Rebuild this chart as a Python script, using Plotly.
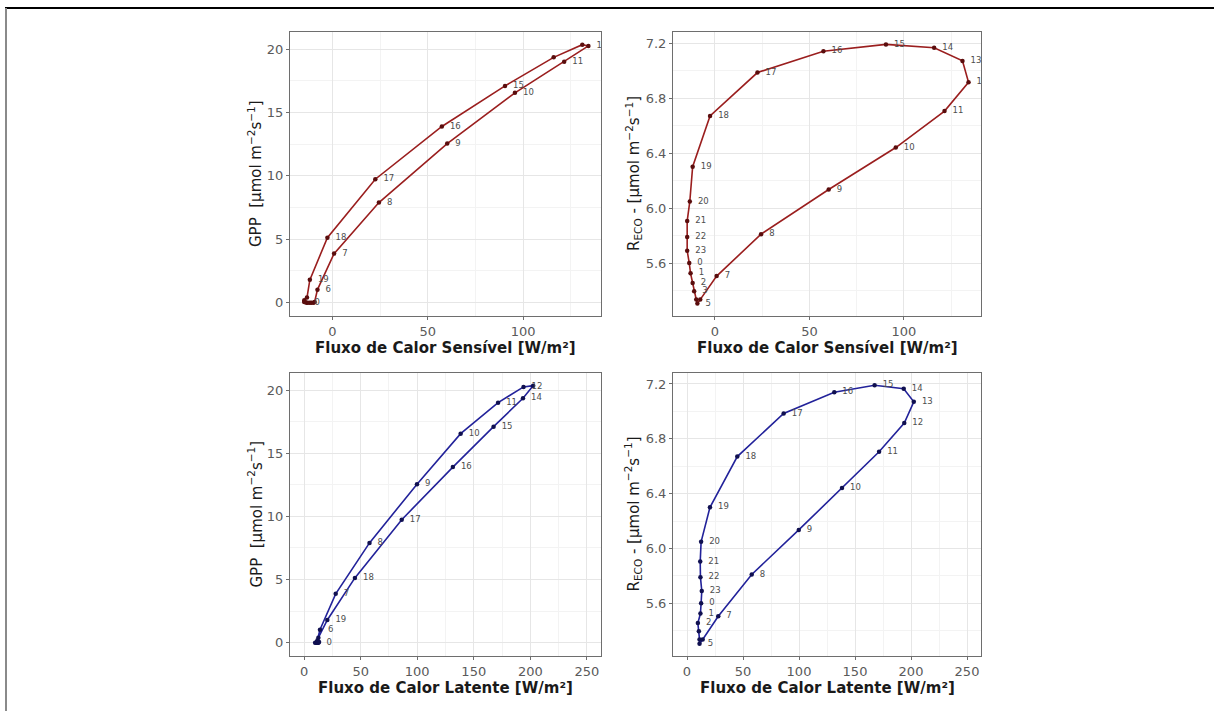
import plotly.graph_objects as go
from plotly.subplots import make_subplots

# ---------------- data (hourly mean cycle) ----------------
hours = list(range(24))
sensible_heat = [-13.6, -12.9, -11.8, -11.0, -9.9, -9.3, -7.8, 0.9, 24.4, 60.2, 95.7, 121.5,
                 134.2, 131.0, 116.0, 90.5, 57.4, 22.5, -2.6, -11.8, -13.3, -14.7, -14.7, -14.7]
latent_heat = [12.6, 12.0, 9.7, 10.6, 11.2, 11.2, 14.0, 27.9, 57.8, 99.8, 138.4, 171.5,
               194.0, 202.5, 193.5, 167.5, 131.5, 86.3, 44.9, 20.5, 12.6, 11.8, 12.0, 13.2]
gpp = [0.0, 0.0, 0.0, 0.0, 0.0, 0.05, 1.03, 3.87, 7.9, 12.55, 16.55, 19.0,
       20.25, 20.35, 19.35, 17.1, 13.9, 9.74, 5.13, 1.8, 0.4, 0.2, 0.1, 0.05]
reco = [5.60, 5.525, 5.455, 5.395, 5.335, 5.305, 5.335, 5.505, 5.81, 6.135, 6.44, 6.705,
        6.915, 7.07, 7.165, 7.19, 7.14, 6.985, 6.67, 6.30, 6.048, 5.905, 5.79, 5.69]

# hour labels that remain visible in each panel (others overlap)
labels_tl = [0, 6, 7, 8, 9, 10, 11, 12, 15, 16, 17, 18, 19]
labels_tr = [0, 1, 2, 3, 5] + list(range(7, 24))
labels_bl = [0, 6, 7, 8, 9, 10, 11, 12, 14, 15, 16, 17, 18, 19]
labels_br = [0, 1, 2, 5] + list(range(7, 24))

x_title_h = "Fluxo de Calor Sensível [W/m²]"
x_title_le = "Fluxo de Calor Latente [W/m²]"
y_title_gpp = "GPP  [μmol m<sup>−2</sup>s<sup>−1</sup>]"
y_title_reco = "R<sub>ECO</sub> - [μmol m<sup>−2</sup>s<sup>−1</sup>]"

RED_LINE = "#9a1e1e"
RED_PT = "#5a0d0d"
BLUE_LINE = "#22229a"
BLUE_PT = "#101050"

W, Hh = 1214, 711
FONT = "DejaVu Sans"

fig = make_subplots(rows=2, cols=2)


def loop(v):
    return list(v) + [v[0]]


def add_panel(row, col, xs, ys, labels, lc, pc):
    fig.add_trace(go.Scatter(x=loop(xs), y=loop(ys), mode="lines",
                             line=dict(color=lc, width=1.6), hoverinfo="skip",
                             showlegend=False), row=row, col=col)
    fig.add_trace(go.Scatter(x=xs, y=ys, mode="markers",
                             marker=dict(color=pc, size=4.5), showlegend=False),
                  row=row, col=col)
    lx = [xs[h] for h in labels]
    ly = [ys[h] for h in labels]
    lt = ["\u00a0\u00a0\u00a0" + str(h) for h in labels]
    fig.add_trace(go.Scatter(x=lx, y=ly, mode="text", text=lt,
                             textposition="middle right", cliponaxis=True,
                             textfont=dict(family=FONT, size=8.5, color="#4d4d4d"),
                             showlegend=False, hoverinfo="skip"),
                  row=row, col=col)


add_panel(1, 1, sensible_heat, gpp, labels_tl, RED_LINE, RED_PT)
add_panel(1, 2, sensible_heat, reco, labels_tr, RED_LINE, RED_PT)
add_panel(2, 1, latent_heat, gpp, labels_bl, BLUE_LINE, BLUE_PT)
add_panel(2, 2, latent_heat, reco, labels_br, BLUE_LINE, BLUE_PT)

# panel geometry (pixels)
left_x = (290, 601)
right_x = (673, 981)
top_y = (32, 316)
bot_y = (373, 656)


def dom_x(p):
    return [p[0] / W, p[1] / W]


def dom_y(p):
    return [1 - p[1] / Hh, 1 - p[0] / Hh]


axis_common = dict(showline=True, linecolor="#6e6e6e", linewidth=1, mirror=True,
                   ticks="outside", ticklen=3, tickcolor="#6e6e6e", tickwidth=1,
                   showgrid=True, gridcolor="#e6e6e6", gridwidth=1, zeroline=False,
                   tickfont=dict(family=FONT, size=13, color="#5a5a5a"))
minor_x = dict(dtick=25, showgrid=True, gridcolor="#f3f3f3", gridwidth=0.6)

fig.update_layout(
    xaxis=dict(domain=dom_x(left_x), range=[-22.2, 140.8], tick0=0, dtick=50,
               minor=minor_x, **axis_common),
    yaxis=dict(domain=dom_y(top_y), range=[-1.05, 21.35], tick0=0, dtick=5,
               minor=dict(dtick=2.5, showgrid=True, gridcolor="#f3f3f3", gridwidth=0.6),
               **axis_common),
    xaxis2=dict(domain=dom_x(right_x), range=[-22.2, 140.8], tick0=0, dtick=50,
                minor=minor_x, **axis_common),
    yaxis2=dict(domain=dom_y(top_y), range=[5.215, 7.28], tick0=5.6, dtick=0.4,
                tickformat=".1f",
                minor=dict(dtick=0.2, showgrid=True, gridcolor="#f3f3f3", gridwidth=0.6),
                **axis_common),
    xaxis3=dict(domain=dom_x(left_x), range=[-12.5, 262.5], tick0=0, dtick=50,
                minor=minor_x, **axis_common),
    yaxis3=dict(domain=dom_y(bot_y), range=[-1.05, 21.35], tick0=0, dtick=5,
                minor=dict(dtick=2.5, showgrid=True, gridcolor="#f3f3f3", gridwidth=0.6),
                **axis_common),
    xaxis4=dict(domain=dom_x(right_x), range=[-12.5, 262.5], tick0=0, dtick=50,
                minor=minor_x, **axis_common),
    yaxis4=dict(domain=dom_y(bot_y), range=[5.215, 7.28], tick0=5.6, dtick=0.4,
                tickformat=".1f",
                minor=dict(dtick=0.2, showgrid=True, gridcolor="#f3f3f3", gridwidth=0.6),
                **axis_common),
    width=W, height=Hh,
    margin=dict(l=0, r=0, t=0, b=0),
    paper_bgcolor="white", plot_bgcolor="white",
    showlegend=False,
)

annotations = []
title_font_x = dict(family=FONT, size=15, color="#1a1a1a")
title_font_y = dict(family=FONT, size=15, color="#1a1a1a")
for (xp, yp, txt) in [(left_x, 348, x_title_h), (right_x, 348, x_title_h),
                      (left_x, 688, x_title_le), (right_x, 688, x_title_le)]:
    annotations.append(dict(x=(xp[0] + xp[1]) / 2 / W, y=1 - yp / Hh, xref="paper", yref="paper",
                            text="<b>" + txt + "</b>", showarrow=False, xanchor="center",
                            yanchor="middle", font=title_font_x))
for (xc, yp, txt) in [(255, top_y, y_title_gpp), (633, top_y, y_title_reco),
                      (255, bot_y, y_title_gpp), (633, bot_y, y_title_reco)]:
    annotations.append(dict(x=xc / W, y=1 - (yp[0] + yp[1]) / 2 / Hh, xref="paper", yref="paper",
                            text=txt, showarrow=False, textangle=-90, xanchor="center",
                            yanchor="middle", font=title_font_y))
fig.update_layout(annotations=annotations)

# outer frame lines (top black, left grey)
fig.add_shape(type="line", xref="paper", yref="paper", x0=5 / W, x1=1, y0=1 - 8 / Hh, y1=1 - 8 / Hh,
              line=dict(color="black", width=2))
fig.add_shape(type="line", xref="paper", yref="paper", x0=6 / W, x1=6 / W, y0=0, y1=1 - 8 / Hh,
              line=dict(color="#8a8a8a", width=2))

fig.write_html("out.html", config={"displayModeBar": False},
               post_script="document.body.style.margin='0px';")
